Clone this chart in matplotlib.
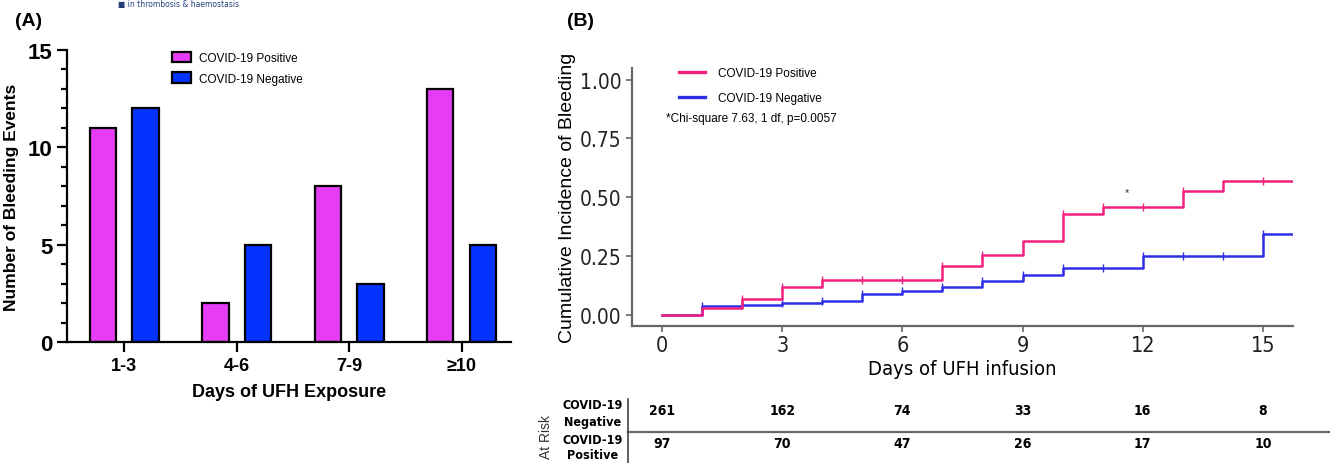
import matplotlib
matplotlib.use("Agg")
import matplotlib.pyplot as plt
import matplotlib.transforms as mtransforms
from matplotlib.lines import Line2D
import numpy as np

# ---- panel A data ----
groups = ['1-3', '4-6', '7-9', '≥10']
pos_events = [11, 2, 8, 13]
neg_events = [12, 5, 3, 5]

# ---- panel B data (cumulative incidence, step changes) ----
pos_t = [0, 1, 2, 3, 4, 7, 8, 9, 10, 11, 13, 14]
pos_ci = [0.0, 0.031, 0.068, 0.120, 0.150, 0.210, 0.256, 0.314, 0.431, 0.458, 0.527, 0.568]
neg_t = [0, 1, 2, 3, 4, 5, 6, 7, 8, 9, 10, 12, 15]
neg_ci = [0.0, 0.037, 0.044, 0.050, 0.058, 0.091, 0.102, 0.119, 0.143, 0.169, 0.201, 0.251, 0.346]
pos_cens = [2, 3, 4, 5, 6, 7, 8, 10, 11, 12, 13, 15]
neg_cens = [1, 2, 3, 4, 5, 6, 7, 8, 9, 10, 11, 12, 13, 14, 15]

risk_days = [0, 3, 6, 9, 12, 15]
risk_neg = [261, 162, 74, 33, 16, 8]
risk_pos = [97, 70, 47, 26, 17, 10]

PINK_BAR = '#E63CF4'
BLUE_BAR = '#0433FF'
PINK_LINE = '#F2207F'
BLUE_LINE = '#2E2EE6'
narrow = dict(family=['Liberation Sans Narrow', 'DejaVu Sans'], stretch='condensed')

plt.rcParams['font.family'] = ['Liberation Sans', 'DejaVu Sans']

W, H = 1330, 464
fig = plt.figure(figsize=(W / 100, H / 100), dpi=100)


def box(l, t, r, b):
    return [l / W, 1 - b / H, (r - l) / W, (b - t) / H]


# ================= panel A =================
ax = fig.add_axes(box(67, 51, 511, 343))
x = np.arange(len(groups))
bw, off = 0.235, 0.19
ax.bar(x - off, pos_events, bw, color=PINK_BAR, edgecolor='black', linewidth=1.6,
       label='COVID-19 Positive')
ax.bar(x + off, neg_events, bw, color=BLUE_BAR, edgecolor='black', linewidth=1.6,
       label='COVID-19 Negative')
ax.set_xlim(-0.51, 3.44)
ax.set_ylim(0, 15)
ax.set_xticks(x)
ax.set_xticklabels(groups, fontsize=13, fontweight='bold')
ax.set_yticks([0, 5, 10, 15])
ax.set_yticks(np.arange(0, 16, 1), minor=True)
ax.tick_params(axis='y', which='major', labelsize=16, width=1.6, length=7)
ax.tick_params(axis='y', which='minor', width=1.6, length=4)
ax.tick_params(axis='x', width=1.6, length=7)
for lab in ax.get_yticklabels():
    lab.set_fontweight('bold')
for s in ['top', 'right']:
    ax.spines[s].set_visible(False)
for s in ['left', 'bottom']:
    ax.spines[s].set_linewidth(1.6)
ax.set_ylabel('Number of Bleeding Events', fontsize=12.5, fontweight='bold', labelpad=6)
ax.set_xlabel('Days of UFH Exposure', fontsize=13, fontweight='bold', labelpad=7)
ax.legend(loc='upper left', bbox_to_anchor=(0.213, 1.03), frameon=False, fontsize=8.5,
          handlelength=1.6, handleheight=1.0, handletextpad=0.7, labelspacing=0.7)

# ================= panel B =================
bx = fig.add_axes(box(632, 69.3, 1293.3, 327.3))
x_end = 15.76
for t, ci, cens, col, lab in [(neg_t, neg_ci, neg_cens, BLUE_LINE, 'COVID-19 Negative'),
                              (pos_t, pos_ci, pos_cens, PINK_LINE, 'COVID-19 Positive')]:
    tt = np.append(t, x_end)
    yy = np.append(ci, ci[-1])
    bx.step(tt, yy, where='post', color=col, lw=1.8, label=lab)
    idx = np.searchsorted(t, cens, side='right') - 1
    bx.plot(cens, np.array(ci)[idx], linestyle='none', marker='|', ms=6, mew=1.0, color=col)

bx.set_xlim(-0.75, x_end)
bx.set_ylim(-0.048, 1.048)
bx.set_xticks(risk_days)
bx.set_yticks([0, 0.25, 0.5, 0.75, 1.0])
bx.set_yticklabels(['0.00', '0.25', '0.50', '0.75', '1.00'], fontsize=15, **narrow)
bx.set_xticklabels([str(d) for d in risk_days], fontsize=15.5, **narrow)
bx.tick_params(color='#666666', width=1.2, length=4, labelcolor='#222222')
bx.tick_params(axis='x', pad=2)
for s in ['top', 'right']:
    bx.spines[s].set_visible(False)
for s in ['left', 'bottom']:
    bx.spines[s].set_color('#666666')
    bx.spines[s].set_linewidth(1.6)
bx.set_ylabel('Cumulative Incidence of Bleeding', fontsize=14, labelpad=3)
bx.set_xlabel('Days of UFH infusion', fontsize=14.5, labelpad=3, **narrow)

handles = [Line2D([], [], color=PINK_LINE, lw=2.4), Line2D([], [], color=BLUE_LINE, lw=2.4)]
bx.legend(handles, ['COVID-19 Positive', 'COVID-19 Negative'], loc='upper left',
          bbox_to_anchor=(0.055, 1.045), frameon=False, fontsize=8.5, handlelength=2.2,
          handletextpad=1.1, labelspacing=1.1)
fig.text(666 / W, 1 - 119 / H, '*Chi-square 7.63, 1 df, p=0.0057', fontsize=8.5,
         va='center', ha='left')
fig.text(1127 / W, 1 - 193 / H, '*', fontsize=8, ha='center', va='center', color='#333333')

# ---- at-risk table ----
tr = mtransforms.blended_transform_factory(bx.transData, fig.transFigure)
for d, n1, n2 in zip(risk_days, risk_neg, risk_pos):
    fig.text(d, 1 - 411 / H, str(n1), transform=tr, ha='center', va='center',
             fontsize=10, fontweight='bold', **narrow)
    fig.text(d, 1 - 444 / H, str(n2), transform=tr, ha='center', va='center',
             fontsize=10, fontweight='bold', **narrow)
fig.text(593 / W, 1 - 414 / H, 'COVID-19\nNegative', ha='center', va='center',
         fontsize=9, fontweight='bold', linespacing=1.35, **narrow)
fig.text(593 / W, 1 - 448 / H, 'COVID-19\nPositive', ha='center', va='center',
         fontsize=9, fontweight='bold', linespacing=1.25, **narrow)
fig.text(546 / W, 1 - 437 / H, 'At Risk', rotation=90, ha='center', va='center',
         fontsize=10, color='#333333')
fig.add_artist(Line2D([627.7 / W, 1.0], [1 - 433.3 / H] * 2, color='#666666', lw=1.6))
fig.add_artist(Line2D([627.7 / W] * 2, [1 - 400 / H, 0], color='#444444', lw=1.2))

# ---- panel letters and header strip ----
fig.text(29 / W, 1 - 22 / H, '(A)', fontsize=14, fontweight='bold', ha='center', va='center')
fig.text(580 / W, 1 - 22 / H, '(B)', fontsize=14, fontweight='bold', ha='center', va='center')
fig.text(118 / W, 1.0, '■ in thrombosis & haemostasis', fontsize=5.5, color='#24407A',
         ha='left', va='top', family=['DejaVu Sans'])

fig.savefig('out.png', dpi=100)
